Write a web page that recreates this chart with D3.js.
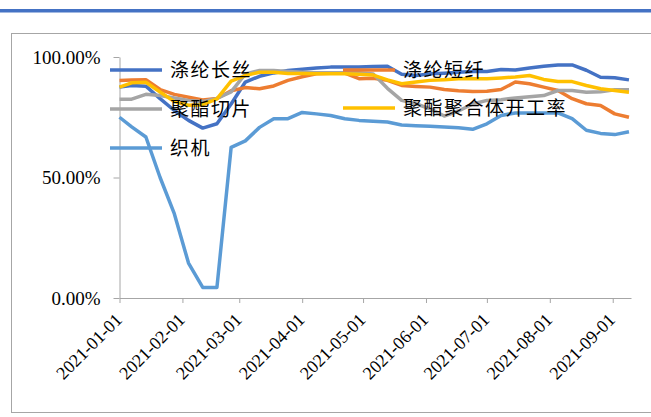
<!DOCTYPE html>
<html>
<head>
<meta charset="utf-8">
<script src="https://cdn.jsdelivr.net/npm/d3@7"></script>
<style>
  body { margin: 0; background: #fff; }
</style>
</head>
<body>
<div id="chart"></div>
<script>
// weekly dates (thursdays after the first point)
var dates = [
  "2021-01-01", "2021-01-07", "2021-01-14", "2021-01-21", "2021-01-28",
  "2021-02-04", "2021-02-11", "2021-02-18", "2021-02-25",
  "2021-03-04", "2021-03-11", "2021-03-18", "2021-03-25",
  "2021-04-01", "2021-04-08", "2021-04-15", "2021-04-22", "2021-04-29",
  "2021-05-06", "2021-05-13", "2021-05-20", "2021-05-27",
  "2021-06-03", "2021-06-10", "2021-06-17", "2021-06-24",
  "2021-07-01", "2021-07-08", "2021-07-15", "2021-07-22", "2021-07-29",
  "2021-08-05", "2021-08-12", "2021-08-19", "2021-08-26",
  "2021-09-02", "2021-09-09"
];

// operating rates, %
var filament = [87.5, 88.2, 87.9, 82.7, 77.8, 73.7, 70.5, 72.3, 80.5, 89.6, 92.0, 93.4, 94.4,
  94.9, 95.4, 95.8, 95.8, 95.8, 96.1, 96.2, 92.8, 92.3, 93.0, 93.3, 93.7, 94.0, 94.0,
  94.8, 94.6, 95.4, 96.2, 96.7, 96.7, 94.5, 91.6, 91.4, 90.5];
var staple = [90.3, 90.5, 90.6, 86.5, 84.5, 83.3, 82.2, 82.8, 86.0, 87.3, 86.8, 88.0, 90.3,
  91.8, 93.0, 93.3, 93.3, 91.0, 91.2, 90.3, 88.2, 87.8, 87.5, 86.5, 86.0, 85.7, 85.8,
  86.5, 89.6, 88.9, 87.5, 86.1, 82.7, 80.6, 79.9, 76.4, 75.0];
var chips = [82.5, 82.5, 84.5, 84.0, 83.0, 82.0, 81.5, 82.8, 85.5, 93.0, 94.4, 94.4, 94.0,
  93.7, 93.5, 93.5, 93.5, 93.5, 93.0, 87.0, 82.0, 80.6, 78.5, 75.5, 77.6, 80.5, 82.0,
  82.3, 83.0, 83.5, 84.0, 86.1, 86.1, 85.4, 85.6, 86.4, 86.4];
var polymer = [87.5, 89.3, 89.5, 85.5, 81.5, 80.0, 80.2, 82.6, 90.0, 92.3, 93.7, 93.7, 93.2,
  93.2, 93.0, 93.0, 93.0, 92.8, 92.5, 90.5, 88.9, 89.6, 90.3, 90.6, 91.0, 91.0, 91.0,
  91.3, 91.7, 92.3, 90.7, 89.8, 89.8, 88.2, 86.8, 86.1, 85.4];
var looms = [75.0, 71.0, 66.8, 50.0, 35.0, 14.5, 4.4, 4.4, 62.5, 65.2, 70.8, 74.4, 74.4,
  77.0, 76.4, 75.7, 74.4, 73.7, 73.3, 73.0, 71.8, 71.5, 71.3, 71.0, 70.6, 70.0, 72.3,
  75.7, 76.8, 76.8, 76.8, 76.8, 74.4, 69.6, 68.3, 67.8, 69.0];

var seriesNames = ["涤纶长丝", "涤纶短纤", "聚酯切片", "聚酯聚合体开工率", "织机"];
var seriesValues = [filament, staple, chips, polymer, looms];
var seriesColors = ["#4472C4", "#ED7D31", "#A5A5A5", "#FFC000", "#5B9BD5"];

var yTicks = [0, 0.5, 1];
var monthTicks = ["2021-01-01", "2021-02-01", "2021-03-01", "2021-04-01", "2021-05-01",
  "2021-06-01", "2021-07-01", "2021-08-01", "2021-09-01"];

var svgWidth = 651;
var svgHeight = 417;
var serif = "'Liberation Serif', 'Times New Roman', serif";

var parseDate = d3.timeParse("%Y-%m-%d");

var svg = d3.select("#chart")
  .append("svg")
  .attr("width", svgWidth)
  .attr("height", svgHeight);

// top accent bar and chart frame
svg.append("rect")
  .attr("x", 0).attr("y", 9)
  .attr("width", svgWidth).attr("height", 3.5)
  .attr("fill", "#4472C4");

svg.append("rect")
  .attr("x", 11.5).attr("y", 33.5)
  .attr("width", 660).attr("height", 379)
  .attr("fill", "none")
  .attr("stroke", "#A6A6A6");

// scales
var xScale = d3.scaleTime()
  .domain([parseDate("2021-01-01"), parseDate("2021-09-10")])
  .range([119.5, 631]);

var yScale = d3.scaleLinear()
  .domain([0, 1])
  .range([298, 57]);

// axes
var xAxis = svg.append("g")
  .attr("transform", "translate(0, 298)")
  .call(d3.axisBottom(xScale)
    .tickValues(monthTicks.map(parseDate))
    .tickSize(5)
    .tickSizeOuter(0)
    .tickFormat(d3.timeFormat("%Y-%m-%d")));

xAxis.attr("font-family", serif).attr("font-size", 18);

xAxis.selectAll("text")
  .attr("fill", "#000")
  .attr("text-anchor", "end")
  .attr("dy", null)
  .attr("y", 0)
  .attr("transform", "translate(3, 23) rotate(-45)");

var yAxis = svg.append("g")
  .attr("transform", "translate(119.5, 0)")
  .call(d3.axisLeft(yScale)
    .tickValues(yTicks)
    .tickSize(6)
    .tickSizeOuter(0)
    .tickPadding(13)
    .tickFormat(d3.format(".2%")));

yAxis.attr("font-family", serif).attr("font-size", 19);
yAxis.selectAll("text").attr("fill", "#000");

svg.selectAll(".domain, .tick line").attr("stroke", "#A6A6A6");

// lines
var line = d3.line()
  .x((d, i) => xScale(parseDate(dates[i])))
  .y(d => yScale(d / 100));

svg.selectAll(".series")
  .data(seriesValues)
  .enter()
  .append("path")
  .attr("class", "series")
  .attr("d", d => line(d))
  .attr("fill", "none")
  .attr("stroke", (d, i) => seriesColors[i])
  .attr("stroke-width", 3.5)
  .attr("stroke-linejoin", "round");

// legend, drawn over the plot
var legendPos = [
  { x: 110, y: 70 }, { x: 343, y: 70 },
  { x: 110, y: 109 }, { x: 343, y: 108 },
  { x: 110, y: 148 }
];

var legend = svg.selectAll(".legendItem")
  .data(seriesNames)
  .enter()
  .append("g")
  .attr("class", "legendItem")
  .attr("transform", (d, i) => `translate(${legendPos[i].x}, ${legendPos[i].y})`);

legend.append("line")
  .attr("x1", 0).attr("x2", 52)
  .attr("stroke", (d, i) => seriesColors[i])
  .attr("stroke-width", 3.5);

legend.append("text")
  .attr("x", 60)
  .attr("dy", "0.36em")
  .attr("font-family", "'Noto Sans CJK SC', sans-serif")
  .attr("font-size", 19)
  .attr("letter-spacing", 1.5)
  .attr("fill", "#000")
  .text(d => d);
</script>
</body>
</html>
